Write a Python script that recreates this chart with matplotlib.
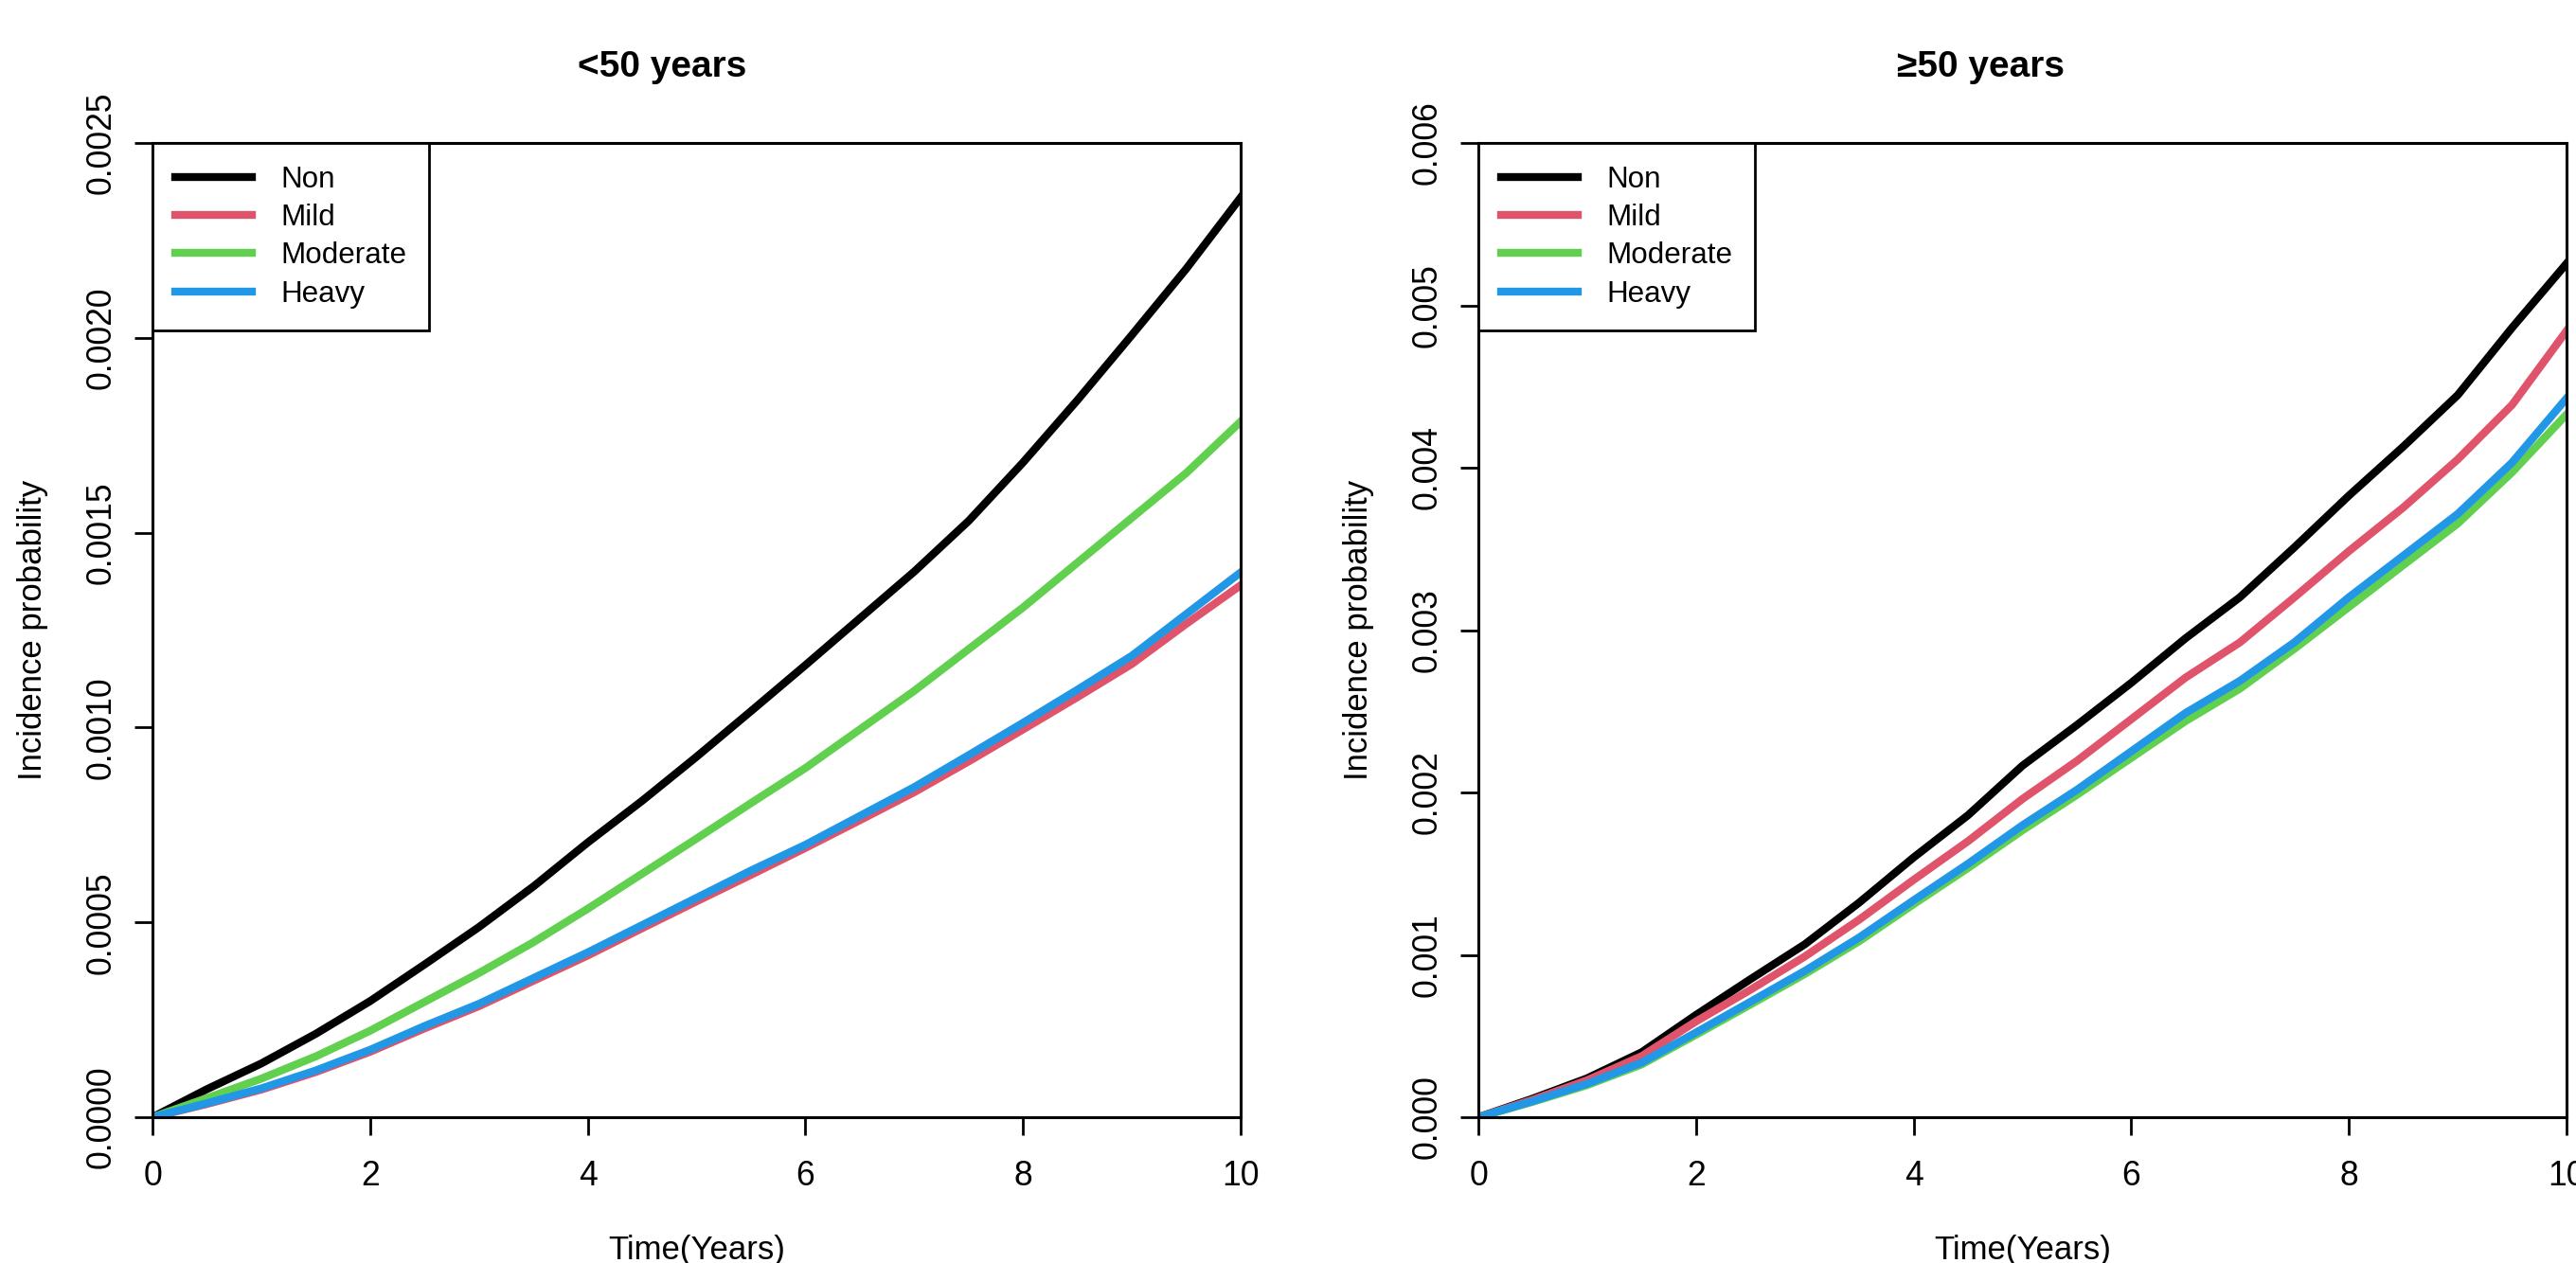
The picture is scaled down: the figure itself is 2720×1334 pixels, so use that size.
import matplotlib.pyplot as plt

plt.rcParams['font.family'] = ['Liberation Sans', 'DejaVu Sans']

# time points (years)
years = [0, 0.5, 1, 1.5, 2, 2.5, 3, 3.5, 4, 4.5, 5, 5.5, 6, 6.5, 7, 7.5, 8, 8.5, 9, 9.5, 10]

# <50 years
young_non = [0, 0.000072, 0.000138, 0.000214, 0.000298, 0.000392, 0.000488, 0.000592, 0.000705,
             0.000812, 0.000925, 0.001042, 0.001160, 0.001280, 0.001400, 0.001530, 0.001680,
             0.001840, 0.002007, 0.002177, 0.00236]
young_mild = [0, 0.000034, 0.000071, 0.000116, 0.000168, 0.000228, 0.000285, 0.000350, 0.000415,
              0.000485, 0.000554, 0.000622, 0.000691, 0.000762, 0.000834, 0.000913, 0.000995,
              0.001078, 0.001163, 0.001266, 0.001365]
young_moderate = [0, 0.000049, 0.000099, 0.000156, 0.000222, 0.000296, 0.00037, 0.000449, 0.000535,
                  0.000625, 0.000715, 0.000806, 0.000896, 0.000995, 0.001094, 0.001201, 0.001308,
                  0.001423, 0.001538, 0.001653, 0.001785]
young_heavy = [0, 0.000036, 0.000074, 0.00012, 0.000173, 0.000234, 0.000291, 0.000357, 0.000423,
               0.000493, 0.000563, 0.000633, 0.000699, 0.000773, 0.000847, 0.000929, 0.001012,
               0.001097, 0.001184, 0.001291, 0.001398]

# >=50 years
old_non = [0, 0.000115, 0.000240, 0.000400, 0.000630, 0.000850, 0.001065, 0.001322, 0.001600,
           0.001860, 0.002165, 0.002415, 0.002675, 0.002950, 0.003203, 0.003510, 0.003828,
           0.004130, 0.004447, 0.004862, 0.005257]
old_mild = [0, 0.000108, 0.000228, 0.000376, 0.000590, 0.000785, 0.000990, 0.001217, 0.001462,
            0.0017, 0.001960, 0.002194, 0.002451, 0.002708, 0.002925, 0.003202, 0.003486,
            0.003755, 0.004051, 0.004387, 0.004842]
old_moderate = [0, 0.000095, 0.000198, 0.000325, 0.000508, 0.000694, 0.000882, 0.001084, 0.001312,
                0.001535, 0.001767, 0.001985, 0.002213, 0.002440, 0.00264, 0.002885, 0.003142,
                0.003400, 0.003656, 0.003972, 0.004328]
old_heavy = [0, 0.000099, 0.000206, 0.000336, 0.000522, 0.000711, 0.000901, 0.001107, 0.001336,
             0.001561, 0.001798, 0.002016, 0.002253, 0.00249, 0.002688, 0.002925, 0.003202,
             0.003458, 0.003715, 0.004032, 0.004427]

labels = ["Non", "Mild", "Moderate", "Heavy"]
colors = ["#000000", "#DF536B", "#61D04F", "#2297E6"]

panels = [
    ("<50 years", [young_non, young_mild, young_moderate, young_heavy],
     [0, 0.0005, 0.0010, 0.0015, 0.0020, 0.0025], "{:.4f}"),
    ("\u226550 years", [old_non, old_mild, old_moderate, old_heavy],
     [0, 0.001, 0.002, 0.003, 0.004, 0.005, 0.006], "{:.3f}"),
]
xticks = [0, 2, 4, 6, 8, 10]

fig = plt.figure(figsize=(13.6, 6.67), dpi=200)
lefts = [0.0592, 0.5739]
title_x = [0.257, 0.769]
for (title, series, yticks, fmt), left, tx in zip(panels, lefts, title_x):
    ax = fig.add_axes([left, 0.1154, 0.4224, 0.7714])
    for y, lab, c in zip(series, labels, colors):
        ax.plot(years, y, color=c, lw=3, label=lab)
    ax.set_xlim(0, 10)
    ax.set_ylim(yticks[0], yticks[-1])
    ax.set_xticks(xticks)
    ax.set_xticklabels([str(v) for v in xticks])
    ax.set_yticks(yticks)
    ax.set_yticklabels([fmt.format(v) for v in yticks], rotation=90, va='center')
    ax.tick_params(direction='out', length=7, width=1, labelsize=12.8, pad=6, color='black')
    ax.tick_params(axis='x', pad=9)
    for s in ax.spines.values():
        s.set_linewidth(1.1)
    fig.text(tx, 0.947, title, fontsize=14, fontweight='bold', ha='center', va='center')
    ax.set_xlabel("Time(Years)", fontsize=12.5, labelpad=16)
    ax.set_ylabel("Incidence probability", fontsize=12.5, labelpad=14)
    leg = ax.legend(loc='upper left', borderaxespad=0, fancybox=False, edgecolor='black',
                    framealpha=1, fontsize=11.3, handlelength=2.6, handletextpad=0.95,
                    labelspacing=0.33, borderpad=0.75)
    leg.get_frame().set_linewidth(1.0)

fig.savefig("out.png", dpi=200)
